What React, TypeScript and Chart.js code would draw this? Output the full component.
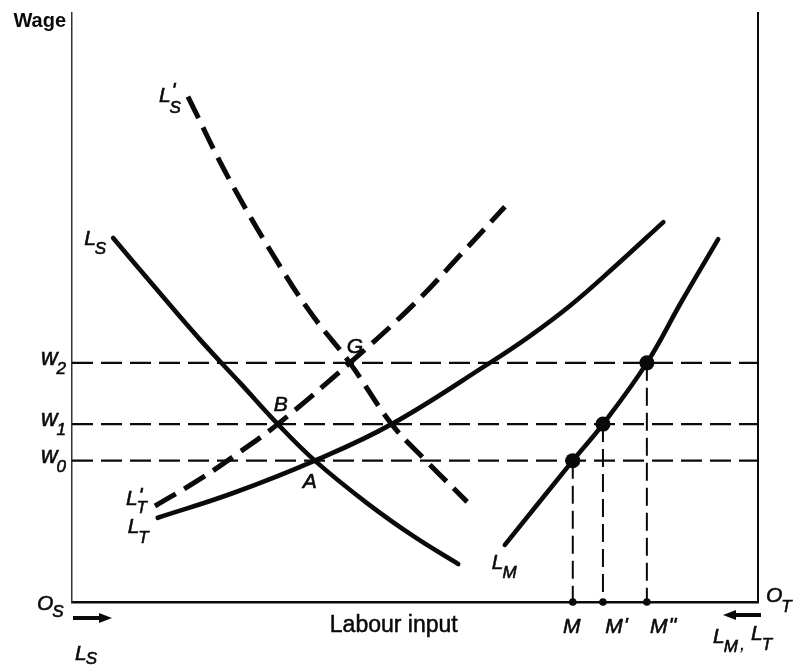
import React, { useEffect, useRef } from 'react';
import { Chart, registerables } from 'chart.js';

Chart.register(...registerables);

// ---- data (labour on x, wage on y; both in arbitrary units 0..100) ----
const X_MIN = 0;
const X_MAX = 100;
const Y_MIN = 0;
const Y_MAX = 100;

const WAGES = [24.0, 30.2, 40.6]; // w0, w1, w2
const WAGE_SUBS = ['0', '1', '2'];
const M_LEVELS = [73.0, 77.4, 83.8]; // M, M', M''
const M_PRIMES = ['', "'", "''"];

const A_PT = { x: 35.4, y: 24.0 };
const B_PT = { x: 30.0, y: 30.2 };
const G_PT = { x: 40.5, y: 40.6 };

const LS = [
  { x: 6.0, y: 61.8 }, { x: 12.4, y: 53.0 }, { x: 18.7, y: 44.5 }, { x: 24.5, y: 37.2 },
  { x: 30.0, y: 30.2 }, { x: 35.4, y: 24.0 }, { x: 43.0, y: 16.8 }, { x: 50.0, y: 11.0 },
  { x: 56.3, y: 6.45 },
];
const LS_PRIME = [
  { x: 16.9, y: 85.8 }, { x: 23.0, y: 71.6 }, { x: 30.8, y: 56.1 }, { x: 35.3, y: 48.3 },
  { x: 40.5, y: 40.6 }, { x: 46.6, y: 30.2 }, { x: 51.6, y: 24.0 }, { x: 57.6, y: 17.0 },
];
const LT = [
  { x: 12.5, y: 14.3 }, { x: 23.5, y: 18.5 }, { x: 35.4, y: 24.0 }, { x: 46.6, y: 30.2 },
  { x: 60.9, y: 40.6 }, { x: 66.8, y: 45.2 }, { x: 72.6, y: 50.3 }, { x: 78.9, y: 56.7 },
  { x: 86.2, y: 64.5 },
];
const LT_PRIME = [
  { x: 12.1, y: 16.3 }, { x: 18.7, y: 20.9 }, { x: 24.5, y: 25.5 }, { x: 30.0, y: 30.2 },
  { x: 40.5, y: 40.6 }, { x: 49.7, y: 50.4 }, { x: 56.6, y: 58.9 }, { x: 63.1, y: 67.1 },
];
const LM = [
  { x: 63.1, y: 9.7 }, { x: 73.0, y: 24.0 }, { x: 77.4, y: 30.2 }, { x: 83.8, y: 40.6 },
  { x: 88.9, y: 51.1 }, { x: 94.2, y: 61.6 },
];

const FONT = '"Liberation Sans", Arial, Helvetica, sans-serif';
const INK = '#0a0a0a';

function sym(
  ctx: CanvasRenderingContext2D,
  x: number,
  y: number,
  main: string,
  sub: string,
  primes: string,
  align: 'left' | 'right' | 'center',
  opts: { size?: number; subSize?: number; primeRaise?: number; subDrop?: number } = {}
) {
  const size = opts.size ?? 21;
  const subSize = opts.subSize ?? 17;
  const primeRaise = opts.primeRaise ?? 4;
  const subDrop = opts.subDrop ?? 9;
  const mainFont = `italic ${size}px ${FONT}`;
  const subFont = `italic ${subSize}px ${FONT}`;
  ctx.font = mainFont;
  const wm = ctx.measureText(main).width;
  const pw = primes ? ctx.measureText(primes).width : 0;
  ctx.font = subFont;
  const ws = sub ? ctx.measureText(sub).width : 0;
  const total = wm + Math.max(ws, pw);
  const sx = align === 'right' ? x - total : align === 'center' ? x - total / 2 : x;
  ctx.textAlign = 'left';
  ctx.textBaseline = 'alphabetic';
  ctx.fillStyle = INK;
  ctx.strokeStyle = INK;
  ctx.lineWidth = 0.6;
  ctx.font = mainFont;
  ctx.fillText(main, sx, y);
  ctx.strokeText(main, sx, y);
  if (primes) {
    ctx.fillText(primes, sx + wm + 1, y - primeRaise);
    ctx.strokeText(primes, sx + wm + 1, y - primeRaise);
  }
  if (sub) {
    ctx.font = subFont;
    ctx.fillText(sub, sx + wm - 1, y + subDrop);
    ctx.strokeText(sub, sx + wm - 1, y + subDrop);
  }
  return total;
}

function arrow(ctx: CanvasRenderingContext2D, x1: number, x2: number, y: number) {
  const dir = Math.sign(x2 - x1);
  const head = 13;
  ctx.save();
  ctx.strokeStyle = INK;
  ctx.fillStyle = INK;
  ctx.lineWidth = 4;
  ctx.beginPath();
  ctx.moveTo(x1, y);
  ctx.lineTo(x2 - dir * head, y);
  ctx.stroke();
  ctx.beginPath();
  ctx.moveTo(x2, y);
  ctx.lineTo(x2 - dir * head, y - 5);
  ctx.lineTo(x2 - dir * head, y + 5);
  ctx.closePath();
  ctx.fill();
  ctx.restore();
}

const annotate = {
  id: 'annotate',
  afterDatasetsDraw(chart: any) {
    const { ctx } = chart;
    const xs = chart.scales.x;
    const ys = chart.scales.y;
    const px = (v: number) => xs.getPixelForValue(v);
    const py = (v: number) => ys.getPixelForValue(v);
    ctx.save();

    // axis titles
    ctx.fillStyle = INK;
    ctx.font = `bold 20px ${FONT}`;
    ctx.textAlign = 'right';
    ctx.textBaseline = 'alphabetic';
    ctx.fillText('Wage', px(X_MIN) - 6, py(Y_MAX) + 14);
    ctx.font = `23px ${FONT}`;
    ctx.textAlign = 'center';
    ctx.fillText('Labour input', px(46.9), py(Y_MIN) + 30);
    ctx.strokeStyle = INK;
    ctx.lineWidth = 0.5;
    ctx.strokeText('Labour input', px(46.9), py(Y_MIN) + 30);

    // wage labels
    WAGES.forEach((w, i) => {
      sym(ctx, px(X_MIN) - 5, py(w) + 2, 'w', WAGE_SUBS[i], '', 'right', { size: 23, subSize: 17, subDrop: 9 });
    });

    // M labels
    const mOffsets = [-1, 11, 12];
    M_LEVELS.forEach((m, i) => {
      ctx.font = `italic 21px ${FONT}`;
      const wM = ctx.measureText('M').width;
      sym(ctx, px(m) + mOffsets[i] - wM / 2, py(Y_MIN) + 31, 'M', '', M_PRIMES[i], 'left', { primeRaise: 1 });
    });

    // curve labels
    sym(ctx, px(LS[0].x) - 6, py(LS[0].y) + 7, 'L', 'S', '', 'right');
    sym(ctx, px(LS_PRIME[0].x) - 6, py(LS_PRIME[0].y) + 5, 'L', 'S', "'", 'right', { primeRaise: 5, subDrop: 11 });
    sym(ctx, px(LT_PRIME[0].x) - 7, py(LT_PRIME[0].y) - 1, 'L', 'T', "'", 'right', { primeRaise: 3, subDrop: 8 });
    sym(ctx, px(LT[0].x) - 8, py(LT[0].y) + 15, 'L', 'T', '', 'right', { subDrop: 10 });
    sym(ctx, px(LM[0].x) - 13, py(LM[0].y) + 24, 'L', 'M', '', 'left');

    // intersection letters
    sym(ctx, px(A_PT.x) - 5, py(A_PT.y) + 27, 'A', '', '', 'center');
    sym(ctx, px(B_PT.x) + 3, py(B_PT.y) - 13, 'B', '', '', 'center');
    sym(ctx, px(G_PT.x) + 5, py(G_PT.y) - 10, 'G', '', '', 'center');

    // origins and direction arrows
    sym(ctx, px(X_MIN) - 35, py(Y_MIN) + 8, 'O', 'S', '', 'left', { subDrop: 7 });
    arrow(ctx, px(X_MIN) + 1, px(X_MIN) + 40, py(Y_MIN) + 16);
    sym(ctx, px(X_MIN) + 3, py(Y_MIN) + 58, 'L', 'S', '', 'left', { subDrop: 4 });

    sym(ctx, px(X_MAX) + 8, py(Y_MIN) + 0, 'O', 'T', '', 'left', { subDrop: 10 });
    arrow(ctx, px(X_MAX) + 3, px(X_MAX) - 35, py(Y_MIN) + 13);
    const w1 = sym(ctx, px(X_MAX) - 45, py(Y_MIN) + 41, 'L', 'M', '', 'left');
    ctx.font = `italic 21px ${FONT}`;
    ctx.fillText(',', px(X_MAX) - 45 + w1 + 1, py(Y_MIN) + 48);
    sym(ctx, px(X_MAX) - 7, py(Y_MIN) + 38, 'L', 'T', '', 'left', { subDrop: 10 });

    ctx.restore();
  },
};

export default function App() {
  const ref = useRef<HTMLCanvasElement | null>(null);

  useEffect(() => {
    if (!ref.current) return;
    const curve = (data: any[], dashed: boolean) => ({
      data,
      showLine: true,
      borderColor: INK,
      borderWidth: dashed ? 5 : 4.6,
      borderDash: dashed ? [24, 10] : [],
      borderCapStyle: dashed ? 'butt' : 'round',
      borderJoinStyle: 'round',
      tension: 0.4,
      pointRadius: 0,
      clip: false,
    });
    const datasets: any[] = [];
    WAGES.forEach((w) => {
      datasets.push({
        data: [{ x: X_MIN, y: w }, { x: X_MAX, y: w }],
        showLine: true,
        borderColor: INK,
        borderWidth: 2.2,
        borderDash: [21, 8],
        pointRadius: 0,
        clip: false,
      });
    });
    M_LEVELS.forEach((m, i) => {
      datasets.push({
        data: [{ x: m, y: WAGES[i] }, { x: m, y: Y_MIN }],
        showLine: true,
        borderColor: INK,
        borderWidth: 2,
        borderDash: [18, 7],
        pointRadius: 0,
        clip: false,
      });
    });
    datasets.push(curve(LS, false));
    datasets.push(curve(LS_PRIME, true));
    datasets.push(curve(LT, false));
    datasets.push(curve(LT_PRIME, true));
    datasets.push(curve(LM, false));
    datasets.push({
      data: M_LEVELS.map((m, i) => ({ x: m, y: WAGES[i] })),
      showLine: false,
      pointRadius: 7.5,
      pointBackgroundColor: INK,
      pointBorderWidth: 0,
      clip: false,
    });
    datasets.push({
      data: M_LEVELS.map((m) => ({ x: m, y: Y_MIN })),
      showLine: false,
      pointRadius: 3.8,
      pointBackgroundColor: INK,
      pointBorderWidth: 0,
      clip: false,
    });

    const hidden = { display: false };
    const chart = new Chart(ref.current, {
      type: 'scatter',
      data: { datasets },
      options: {
        animation: false,
        responsive: false,
        events: [],
        layout: { padding: { left: 72, right: 42, top: 13, bottom: 65 } },
        plugins: { legend: hidden, tooltip: { enabled: false }, title: hidden },
        scales: {
          x: {
            type: 'linear',
            min: X_MIN,
            max: X_MAX,
            grid: { display: false, drawTicks: false },
            ticks: { display: false },
            border: { display: true, color: INK, width: 2.5 },
          },
          y: {
            type: 'linear',
            min: Y_MIN,
            max: Y_MAX,
            grid: { display: false, drawTicks: false },
            ticks: { display: false },
            border: { display: true, color: '#333', width: 1.5 },
          },
          y2: {
            type: 'linear',
            position: 'right',
            min: Y_MIN,
            max: Y_MAX,
            grid: { display: false, drawTicks: false },
            ticks: { display: false },
            border: { display: true, color: INK, width: 2 },
          },
        },
      } as any,
      plugins: [annotate],
    });
    return () => chart.destroy();
  }, []);

  return (
    <div style={{ position: 'fixed', left: 0, top: 0, width: 800, height: 667, background: '#fff' }}>
      <canvas ref={ref} width={800} height={667} style={{ display: 'block', width: 800, height: 667 }} />
    </div>
  );
}
